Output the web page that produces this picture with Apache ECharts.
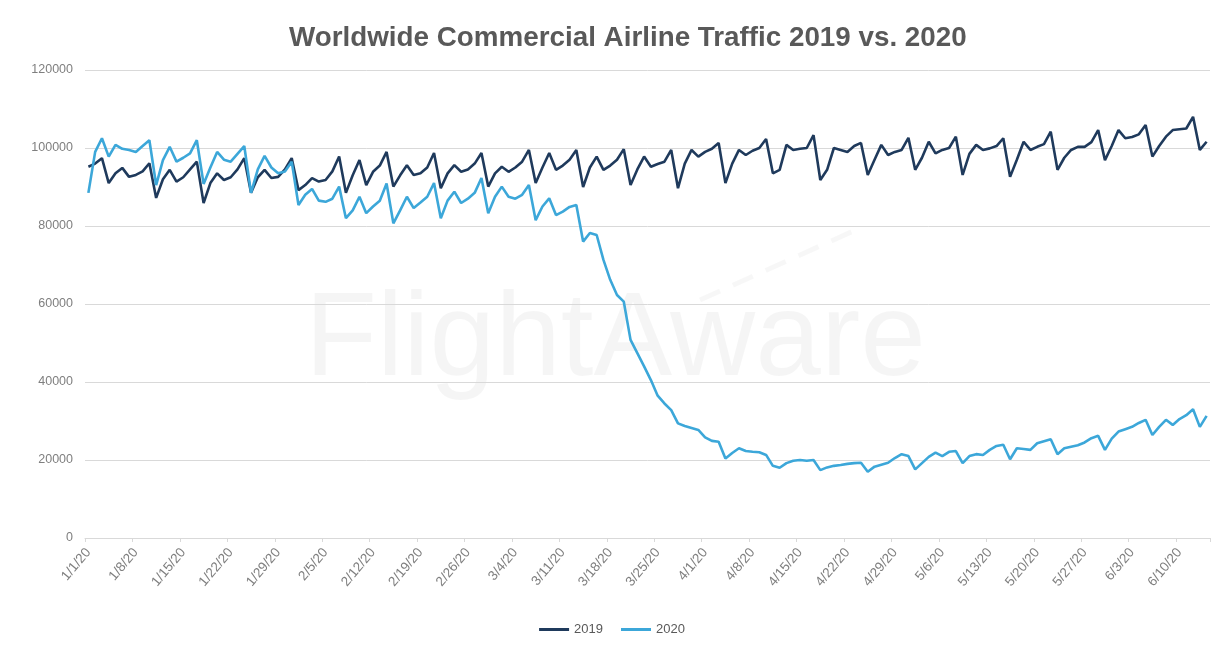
<!DOCTYPE html>
<html>
<head>
<meta charset="utf-8">
<script src="https://cdn.jsdelivr.net/npm/echarts@6/dist/echarts.min.js"></script>
<style>
html,body{margin:0;padding:0;background:#fff;}
#chart{width:1224px;height:653px;}
</style>
</head>
<body>
<div id="chart"></div>
<script>
// Dates 1/1/20 .. 6/14/20 (daily)
const startDate = [2020, 0, 1];
const dayCount = 166;
const categories = [];
for (let i = 0; i < dayCount; i++) {
  const d = new Date(startDate[0], startDate[1], startDate[2] + i);
  categories.push((d.getMonth() + 1) + '/' + d.getDate() + '/20');
}

const seriesNames = ['2019', '2020'];

const traffic2019 = [
  95200, 96000, 97400, 91000, 93500, 94900, 92600,
  93100, 94000, 96100, 87200, 92000, 94400, 91400,
  92500, 94500, 96500, 85900, 91000, 93500, 91800,
  92500, 94500, 97400, 88500, 92500, 94400, 92300,
  92600, 94500, 97400, 89200, 90500, 92300, 91400,
  91800, 94000, 97800, 88500, 93000, 96900, 90500,
  93900, 95500, 99000, 90100, 93000, 95600, 93100,
  93500, 95000, 98700, 89700, 93500, 95600, 93900,
  94500, 96000, 98700, 90100, 93500, 95200, 93900,
  95000, 96500, 99500, 91000, 95000, 98700, 94400,
  95500, 97000, 99500, 90000, 95000, 97800, 94400,
  95500, 97000, 99700, 90500, 94500, 97800, 95200,
  95900, 96500, 99500, 89700, 96000, 99500, 97800,
  99000, 99800, 101300, 91000, 96000, 99500, 98200,
  99300, 100000, 102300, 93500, 94400, 100800, 99500,
  99800, 100000, 103300, 91800, 94400, 100000, 99500,
  99000, 100500, 101300, 93100, 97000, 100800, 98200,
  99000, 99500, 102600, 94400, 97500, 101600, 98600,
  99500, 100000, 102900, 93100, 98500, 100800, 99500,
  99900, 100500, 102500, 92600, 97000, 101600, 99500,
  100300, 101000, 104200, 94400, 97500, 99500, 100300,
  100300, 101500, 104600, 96900, 100500, 104600, 102500,
  102800, 103500, 105900, 97800, 100500, 102900, 104600,
  104800, 105000, 108000, 99500, 101600
];

const traffic2020 = [
  88500, 99000, 102500, 97800, 100800, 99800, 99500,
  99000, 100500, 102000, 90500, 96900, 100300, 96500,
  97500, 98600, 102000, 90800, 95000, 99000, 97000,
  96500, 98500, 100500, 88500, 94500, 98000, 95000,
  93500, 94000, 96500, 85400, 88000, 89500, 86500,
  86200, 87000, 90100, 82000, 84000, 87500, 83300,
  85000, 86500, 90900, 80700, 84000, 87500, 84600,
  86000, 87500, 91000, 82000, 86500, 88800, 85900,
  87000, 88500, 92300, 83300, 87500, 90100, 87500,
  87000, 88000, 90500, 81500, 85000, 87100, 82800,
  83700, 84900, 85400, 76000, 78200, 77700, 71300,
  66200, 62300, 60600, 50800, 47400, 44000, 40500,
  36500, 34500, 32800, 29400, 28700, 28200, 27700,
  25800, 24900, 24700, 20400, 21800, 23000, 22300,
  22100, 22000, 21300, 18500, 18000, 19200, 19800,
  20000, 19800, 20000, 17400, 18100, 18500, 18700,
  19000, 19200, 19300, 17000, 18300, 18800, 19300,
  20500, 21500, 21000, 17600, 19200, 20800, 21900,
  21000, 22100, 22300, 19200, 21000, 21500, 21300,
  22600, 23600, 23900, 20200, 23000, 22800, 22600,
  24300, 24800, 25300, 21500, 23000, 23400, 23800,
  24500, 25600, 26200, 22600, 25500, 27300, 27900,
  28500, 29500, 30300, 26400, 28500, 30300, 29000,
  30500, 31500, 33000, 28500, 31300
];

const yTicks = { min: 0, max: 120000, interval: 20000 };
const titleText = 'Worldwide Commercial Airline Traffic 2019 vs. 2020';
const watermarkText = 'FlightAware';
const fontFam = 'Liberation Sans, Arial, sans-serif';

const chart = echarts.init(document.getElementById('chart'), null, { renderer: 'canvas' });
const option = {
  backgroundColor: '#ffffff',
  animation: false,
  title: {
    text: titleText,
    left: 284,
    top: 19,
    textStyle: { fontFamily: fontFam, fontSize: 27.8, fontWeight: 'bold', color: '#595959' }
  },
  graphic: [
    {
      type: 'text',
      left: 305,
      top: 283,
      z: 0,
      silent: true,
      style: {
        text: watermarkText,
        fontFamily: fontFam,
        fontSize: 118,
        fill: 'rgba(0,0,0,0.04)'
      }
    },
    {
      type: 'line',
      z: 0,
      silent: true,
      shape: { x1: 700, y1: 300, x2: 860, y2: 228 },
      style: { stroke: 'rgba(0,0,0,0.03)', lineWidth: 5, lineDash: [22, 14] }
    }
  ],
  legend: {
    data: seriesNames,
    bottom: 12,
    left: 'center',
    icon: 'rect',
    itemWidth: 30,
    itemHeight: 3,
    itemGap: 18,
    textStyle: { color: '#595959', fontSize: 13, fontFamily: fontFam }
  },
  grid: { left: 85, right: 14, top: 70, bottom: 115, containLabel: false },
  xAxis: {
    type: 'category',
    data: categories,
    boundaryGap: true,
    axisLine: { show: true, lineStyle: { color: '#d9d9d9', width: 1 } },
    axisTick: { show: true, interval: 6, length: 4, lineStyle: { color: '#d9d9d9' } },
    axisLabel: {
      interval: 6,
      rotate: 50,
      color: '#7f7f7f',
      fontSize: 13.5,
      margin: 12,
      fontFamily: fontFam
    },
    splitLine: { show: false }
  },
  yAxis: {
    type: 'value',
    min: yTicks.min,
    max: yTicks.max,
    interval: yTicks.interval,
    axisLine: { show: false },
    axisTick: { show: false },
    axisLabel: {
      color: '#7f7f7f', fontSize: 12.5, margin: 12, fontFamily: fontFam,
      formatter: function (v) { return String(v); }
    },
    splitLine: { lineStyle: { color: '#d9d9d9', width: 1 } }
  },
  series: [
    {
      name: seriesNames[0],
      type: 'line',
      data: traffic2019,
      showSymbol: false,
      symbol: 'none',
      lineStyle: { color: '#1f3a5c', width: 2.6 },
      itemStyle: { color: '#1f3a5c' },
      z: 3
    },
    {
      name: seriesNames[1],
      type: 'line',
      data: traffic2020,
      showSymbol: false,
      symbol: 'none',
      lineStyle: { color: '#3ca7d9', width: 2.6 },
      itemStyle: { color: '#3ca7d9' },
      z: 4
    }
  ]
};
chart.setOption(option);
</script>
</body>
</html>
